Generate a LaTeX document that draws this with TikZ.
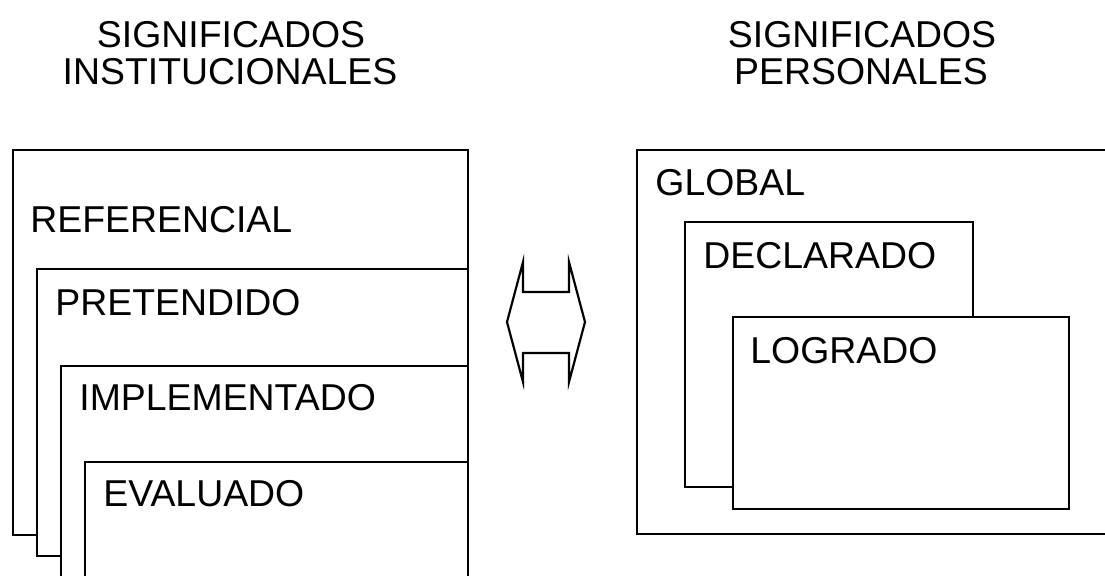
\documentclass[tikz,border=0pt]{standalone}
\usepackage{fontspec}
\setmainfont{Liberation Sans}
\begin{document}
\begin{tikzpicture}[x=0.5pt,y=-0.5pt,
  lbl/.style={anchor=base west,inner sep=0pt,font=\fontsize{18.7}{22}\selectfont},
  ttl/.style={anchor=base,inner sep=0pt,font=\fontsize{18.7}{22}\selectfont},
  layer/.style={draw=black,fill=white,line width=1.1pt},
  arrowshape/.style={draw=black,line width=1.1pt,line join=miter}]
\useasboundingbox (0,0) rectangle (1105,575);
\clip (0,0) rectangle (1105,575);
% titles
\node[ttl] (t1a) at (231,47) {SIGNIFICADOS};
\node[ttl] (t1b) at (230,84) {INSTITUCIONALES};
\node[ttl] (t2a) at (862,47) {SIGNIFICADOS};
\node[ttl] (t2b) at (861,84) {PERSONALES};
% left stack
\draw[layer] (13,150) rectangle (468,535);
\node[lbl] (ref) at (30,232) {REFERENCIAL};
\draw[layer] (37,269) rectangle (468,556);
\node[lbl] (pre) at (55,315) {PRETENDIDO};
\draw[layer] (61,366) rectangle (468,620);
\node[lbl] (imp) at (79,410) {IMPLEMENTADO};
\draw[layer] (85,462) rectangle (468,620);
\node[lbl] (eva) at (103,506) {EVALUADO};
% double arrow
\draw[arrowshape] (523,262) -- (523,292) -- (569,292) -- (569,262) -- (585,322)
  -- (569,382) -- (569,353) -- (523,353) -- (523,382) -- (507,322) -- cycle;
% right nesting
\draw[layer] (637,150) rectangle (1120,534);
\node[lbl] (glo) at (655,195) {GLOBAL};
\draw[layer] (685,222) rectangle (973,487);
\node[lbl] (dec) at (703,268) {DECLARADO};
\draw[layer] (733,317) rectangle (1069,509);
\node[lbl] (log) at (750,363) {LOGRADO};
\end{tikzpicture}
\end{document}
